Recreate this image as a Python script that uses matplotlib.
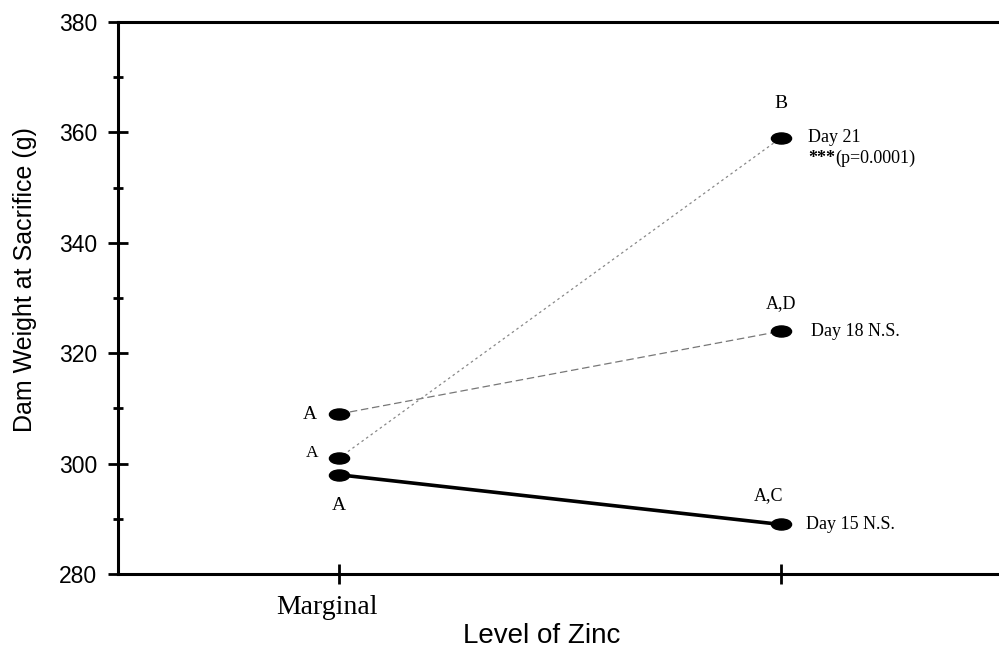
import matplotlib

matplotlib.use("Agg")
import matplotlib.pyplot as plt
from matplotlib.path import Path
from matplotlib.ticker import MultipleLocator
import numpy as np

# Dam weight at sacrifice (g) by zinc level, one series per sacrifice day
zinc_levels = ["Marginal", ""]
x_pos = [1, 2]
day15 = [298, 289]
day18 = [309, 324]
day21 = [301, 359]

SANS = "Liberation Sans"
SERIF = "Liberation Serif"

# flattened ellipse marker
_circ = Path.unit_circle()
ellipse = Path(_circ.vertices * np.array([1.0, 0.55]), _circ.codes)

fig = plt.figure(figsize=(9.99, 6.48), dpi=100)
ax = fig.add_axes([0.118, 0.114, 0.889, 0.852])

mk = dict(marker=ellipse, markersize=14.5, markerfacecolor="black",
          markeredgecolor="black", zorder=3)
ax.plot(x_pos, day15, color="black", lw=2.6, solid_capstyle="round", **mk)
ax.plot(x_pos, day18, color="#777777", lw=0.9, ls=(0, (6, 3)), **mk)
ax.plot(x_pos, day21, color="#888888", lw=0.9, ls=(0, (2, 2.5)), **mk)

ax.set_xlim(0.5, 2.51)
ax.set_ylim(280, 380)
ax.yaxis.set_major_locator(MultipleLocator(20))
ax.yaxis.set_minor_locator(MultipleLocator(10))
ax.set_xticks(x_pos)
ax.set_xticklabels([])
# category names drawn a little left of their ticks
for xv, name in zip(x_pos, zinc_levels):
    ax.annotate(name, xy=(xv, 0), xycoords=("data", "axes fraction"),
                xytext=(-8.5, -24), textcoords="offset points",
                ha="center", va="center", fontfamily=SERIF, fontsize=20)
for lbl in ax.get_yticklabels():
    lbl.set_fontfamily(SANS)
    lbl.set_fontsize(16.5)

ax.tick_params(axis="both", which="major", direction="inout", length=14,
               width=2, pad=8)
ax.tick_params(axis="y", which="minor", direction="inout", length=7, width=2)

for side in ("left", "bottom", "top"):
    ax.spines[side].set_linewidth(2.2)
ax.spines["right"].set_visible(False)

ax.set_ylabel("Dam Weight at Sacrifice (g)", fontfamily=SANS, fontsize=18)
ax.yaxis.set_label_coords(-0.091, 0.534)
ax.set_xlabel("Level of Zinc", fontfamily=SANS, fontsize=20)
ax.xaxis.set_label_coords(0.477, -0.088)


def note(text, xy, dx, dy, size=13, ha="center", weight="normal"):
    ax.annotate(text, xy=xy, xytext=(dx, dy), textcoords="offset points",
                ha=ha, va="center", fontfamily=SERIF, fontsize=size,
                fontweight=weight)


# group letters
note("A", (x_pos[0], day18[0]), -21, 0, size=14)
note("A", (x_pos[0], day21[0]), -19, 4, size=12.5)
note("A", (x_pos[0], day15[0]), 0, -22, size=14)
note("B", (x_pos[1], day21[1]), 0, 25, size=14)
note("A,D", (x_pos[1], day18[1]), 0, 20, size=13)
note("A,C", (x_pos[1], day15[1]), -9, 21, size=13)

# day labels
note("Day 21", (x_pos[1], day21[1]), 20, 0, ha="left")
note("***", (x_pos[1], day21[1]), 20, -15, ha="left", weight="bold")
note("(p=0.0001)", (x_pos[1], day21[1]), 39, -15, ha="left")
note("Day 18 N.S.", (x_pos[1], day18[1]), 22, 0, ha="left")
note("Day 15 N.S.", (x_pos[1], day15[1]), 18, 0, ha="left")

fig.savefig("out.png", dpi=100)
